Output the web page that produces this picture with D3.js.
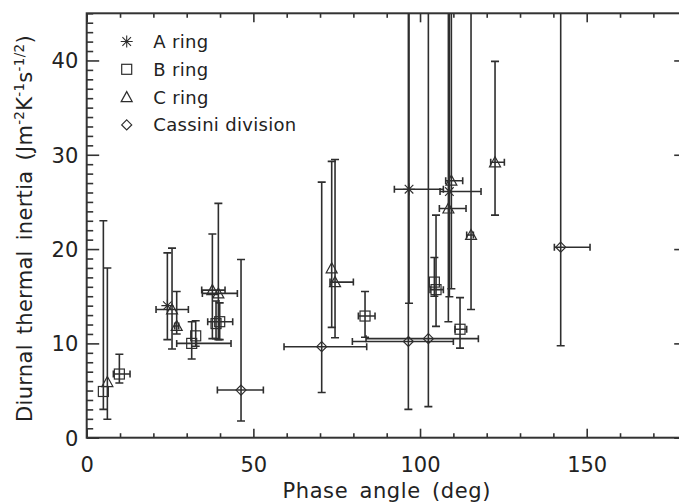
<!DOCTYPE html>
<html>
<head>
<meta charset="utf-8">
<script src="https://cdn.jsdelivr.net/npm/d3@7"></script>
<style>
  body { margin: 0; background: #fff; }
  svg { font-family: "DejaVu Sans", sans-serif; }
  .tick text { fill: #222; }
</style>
</head>
<body>
<div id="chart"></div>
<script>
// each row: [phase, inertia, phaseLo, phaseHi, inertiaLo, inertiaHi]
var aRing = [
  [24.2, 14.0, 24.2, 24.2, 10.4, 19.6],
  [96.7, 26.35, 92.3, 107.0, 14.25, 60],
  [108.8, 26.1, 106.0, 118.3, 14.95, 60]
]
var bRing = [
  [5.0, 4.9, 5.0, 5.0, 3.0, 23.0],
  [9.8, 6.75, 8.0, 13.0, 5.8, 8.85],
  [31.5, 10.0, 27.0, 43.3, 8.35, 12.3],
  [32.7, 10.8, 32.7, 32.7, 9.7, 12.4],
  [38.8, 12.1, 38.8, 38.8, 10.5, 14.5],
  [39.9, 12.3, 36.3, 43.8, 10.4, 14.3],
  [83.5, 12.9, 81.5, 86.5, 10.65, 15.5],
  [104.3, 16.5, 104.3, 104.3, 15.0, 19.1],
  [104.8, 15.7, 103.0, 107.0, 11.8, 23.6],
  [112.0, 11.5, 110.5, 114.0, 9.5, 14.85]
]
var cRing = [
  [6.2, 5.9, 6.2, 6.2, 1.95, 18.0],
  [25.6, 13.6, 20.8, 30.5, 9.4, 20.1],
  [27.0, 11.85, 26.4, 27.6, 11.0, 15.5],
  [37.7, 15.65, 34.5, 41.5, 10.5, 21.6],
  [39.5, 15.3, 34.7, 45.2, 10.4, 24.85],
  [73.5, 17.96, 73.5, 73.5, 11.7, 29.3],
  [74.5, 16.5, 73.0, 80.0, 10.6, 29.5],
  [108.5, 24.3, 105.8, 113.8, 12.3, 60],
  [109.4, 27.25, 107.7, 112.8, 15.8, 60],
  [115.3, 21.5, 114.0, 116.0, 13.6, 60],
  [122.5, 29.2, 121.2, 125.3, 23.6, 39.9]
]
var cassini = [
  [46.3, 5.05, 39.2, 53.0, 1.77, 18.9],
  [70.5, 9.65, 59.2, 84.0, 4.8, 27.1],
  [96.5, 10.2, 79.7, 110.0, 3.0, 60],
  [102.5, 10.5, 83.8, 117.5, 3.3, 60],
  [142.2, 20.2, 140.3, 151.0, 9.75, 60]
]

var legendNames = ['A ring', 'B ring', 'C ring', 'Cassini division']
var legendSymbols = ['asterisk', 'square', 'triangle', 'diamond']

var xDomain = [0, 180], yDomain = [0, 45]
var xMajor = [0, 50, 100, 150]
var yMajor = [0, 10, 20, 30, 40]

var W = 679, H = 504
var margin = {left: 86.7, right: -7.7, top: 13.3, bottom: 66.3}
var ink = '#2e2e2e'

var svg = d3.select('#chart').append('svg').attr('width', W).attr('height', H)

var x = d3.scaleLinear().domain(xDomain).range([margin.left, W - margin.right])
var y = d3.scaleLinear().domain(yDomain).range([H - margin.bottom, margin.top])

var xMinor = d3.range(0, 181, 10).filter(d => xMajor.indexOf(d) < 0)
var yMinor = d3.range(0, 46, 1).filter(d => yMajor.indexOf(d) < 0)

svg.append('clipPath').attr('id', 'plot')
  .append('rect')
  .attr('x', x(0)).attr('y', y(45))
  .attr('width', x(180) - x(0)).attr('height', y(0) - y(45))

// ticks, all four sides
function ticks(axis, vals, size, tx, ty){
  var g = svg.append('g').attr('transform', 'translate(' + tx + ',' + ty + ')')
    .call(axis.tickValues(vals).tickSize(size).tickFormat(''))
  g.select('.domain').remove()
  g.selectAll('line').attr('stroke', '#333').attr('stroke-width', 1.6)
}
ticks(d3.axisBottom(x), xMajor, -9, 0, y(0))
ticks(d3.axisBottom(x), xMinor, -4.5, 0, y(0))
ticks(d3.axisTop(x), xMajor, -9, 0, y(45))
ticks(d3.axisTop(x), xMinor, -4.5, 0, y(45))
ticks(d3.axisLeft(y), yMajor, -12.5, x(0), 0)
ticks(d3.axisLeft(y), yMinor, -6.5, x(0), 0)
ticks(d3.axisRight(y), yMajor, -12.5, x(180), 0)
ticks(d3.axisRight(y), yMinor, -6.5, x(180), 0)

// tick labels
var xl = svg.append('g').attr('transform', 'translate(0,' + y(0) + ')')
  .call(d3.axisBottom(x).tickValues(xMajor).tickSize(0).tickPadding(19).tickFormat(d3.format('d')))
xl.select('.domain').remove()
xl.selectAll('text').attr('font-size', 21).attr('font-family', 'DejaVu Sans')

var yl = svg.append('g').attr('transform', 'translate(' + x(0) + ',0)')
  .call(d3.axisLeft(y).tickValues(yMajor).tickSize(0).tickPadding(8.4).tickFormat(d3.format('d')))
yl.select('.domain').remove()
yl.selectAll('text').attr('font-size', 21).attr('font-family', 'DejaVu Sans').attr('dy', '0.35em')

svg.append('rect')
  .attr('x', x(0)).attr('y', y(45))
  .attr('width', x(180) - x(0)).attr('height', y(0) - y(45))
  .attr('fill', 'none').attr('stroke', '#333').attr('stroke-width', 2)

// axis titles
svg.append('text')
  .attr('x', (x(0) + x(180)) / 2).attr('y', 498)
  .attr('text-anchor', 'middle').attr('font-size', 21)
  .attr('letter-spacing', 0.6).attr('word-spacing', 4)
  .attr('fill', '#222')
  .text('Phase angle (deg)')

var yt = svg.append('text')
  .attr('transform', 'translate(31.5,' + ((y(0) + y(45)) / 2 + 3) + ') rotate(-90)')
  .attr('text-anchor', 'middle').attr('font-size', 21)
  .attr('letter-spacing', 0.3).attr('word-spacing', 3)
  .attr('fill', '#222')
var parts = [['Diurnal thermal inertia (Jm', 0], ['-2', 1], ['K', 0], ['-1', 1], ['s', 0], ['-1/2', 1], [')', 0]]
parts.forEach(function(p){
  var t = yt.append('tspan').text(p[0])
  if (p[1]) t.attr('font-size', 13.5).attr('baseline-shift', '55%')
})

// error bars and symbols
var plot = svg.append('g').attr('clip-path', 'url(#plot)')
var capV = 4, capH = 3.5

function symbol(g, type, cx, cy){
  if (type == 'square') {
    g.append('rect').attr('x', cx - 5).attr('y', cy - 5).attr('width', 10).attr('height', 10)
      .attr('fill', 'none').attr('stroke', ink).attr('stroke-width', 1.2)
  } else if (type == 'triangle') {
    g.append('path').attr('d', 'M' + (cx - 5.5) + ',' + (cy + 4.5) + 'L' + cx + ',' + (cy - 5.5) + 'L' + (cx + 5.5) + ',' + (cy + 4.5) + 'Z')
      .attr('fill', 'none').attr('stroke', ink).attr('stroke-width', 1.2)
  } else if (type == 'diamond') {
    g.append('path').attr('d', 'M' + cx + ',' + (cy - 5) + 'L' + (cx + 5) + ',' + cy + 'L' + cx + ',' + (cy + 5) + 'L' + (cx - 5) + ',' + cy + 'Z')
      .attr('fill', 'none').attr('stroke', ink).attr('stroke-width', 1.2)
  } else {
    var r = 6, s = 4.3
    var d = 'M' + cx + ',' + (cy - r) + 'V' + (cy + r) +
      'M' + (cx - s) + ',' + (cy - s) + 'L' + (cx + s) + ',' + (cy + s) +
      'M' + (cx - s) + ',' + (cy + s) + 'L' + (cx + s) + ',' + (cy - s) +
      'M' + (cx - r) + ',' + cy + 'H' + (cx + r)
    g.append('path').attr('d', d).attr('fill', 'none').attr('stroke', ink).attr('stroke-width', 1.1)
  }
}

function series(rows, type){
  var g = plot.append('g').attr('stroke', ink).attr('stroke-width', 1.6).attr('fill', 'none')
  rows.forEach(function(r){
    var px = x(r[0]), py = y(r[1])
    var p = 'M' + px + ',' + y(r[4]) + 'V' + y(r[5]) +
      'M' + (px - capV) + ',' + y(r[4]) + 'H' + (px + capV) +
      'M' + (px - capV) + ',' + y(r[5]) + 'H' + (px + capV)
    if (r[3] > r[2]) {
      p += 'M' + x(r[2]) + ',' + py + 'H' + x(r[3]) +
        'M' + x(r[2]) + ',' + (py - capH) + 'V' + (py + capH) +
        'M' + x(r[3]) + ',' + (py - capH) + 'V' + (py + capH)
    }
    g.append('path').attr('d', p)
    symbol(g, type, px, py)
  })
}
series(aRing, 'asterisk')
series(bRing, 'square')
series(cRing, 'triangle')
series(cassini, 'diamond')

// legend
var lg = svg.append('g')
legendNames.forEach(function(name, i){
  var by = 48 + i * 27.8
  symbol(lg, legendSymbols[i], 126.7, by - 6.5)
  lg.append('text').attr('x', 153.3).attr('y', by)
    .attr('font-size', 18).attr('letter-spacing', 0.3).attr('fill', '#222').text(name)
})
</script>
</body>
</html>
